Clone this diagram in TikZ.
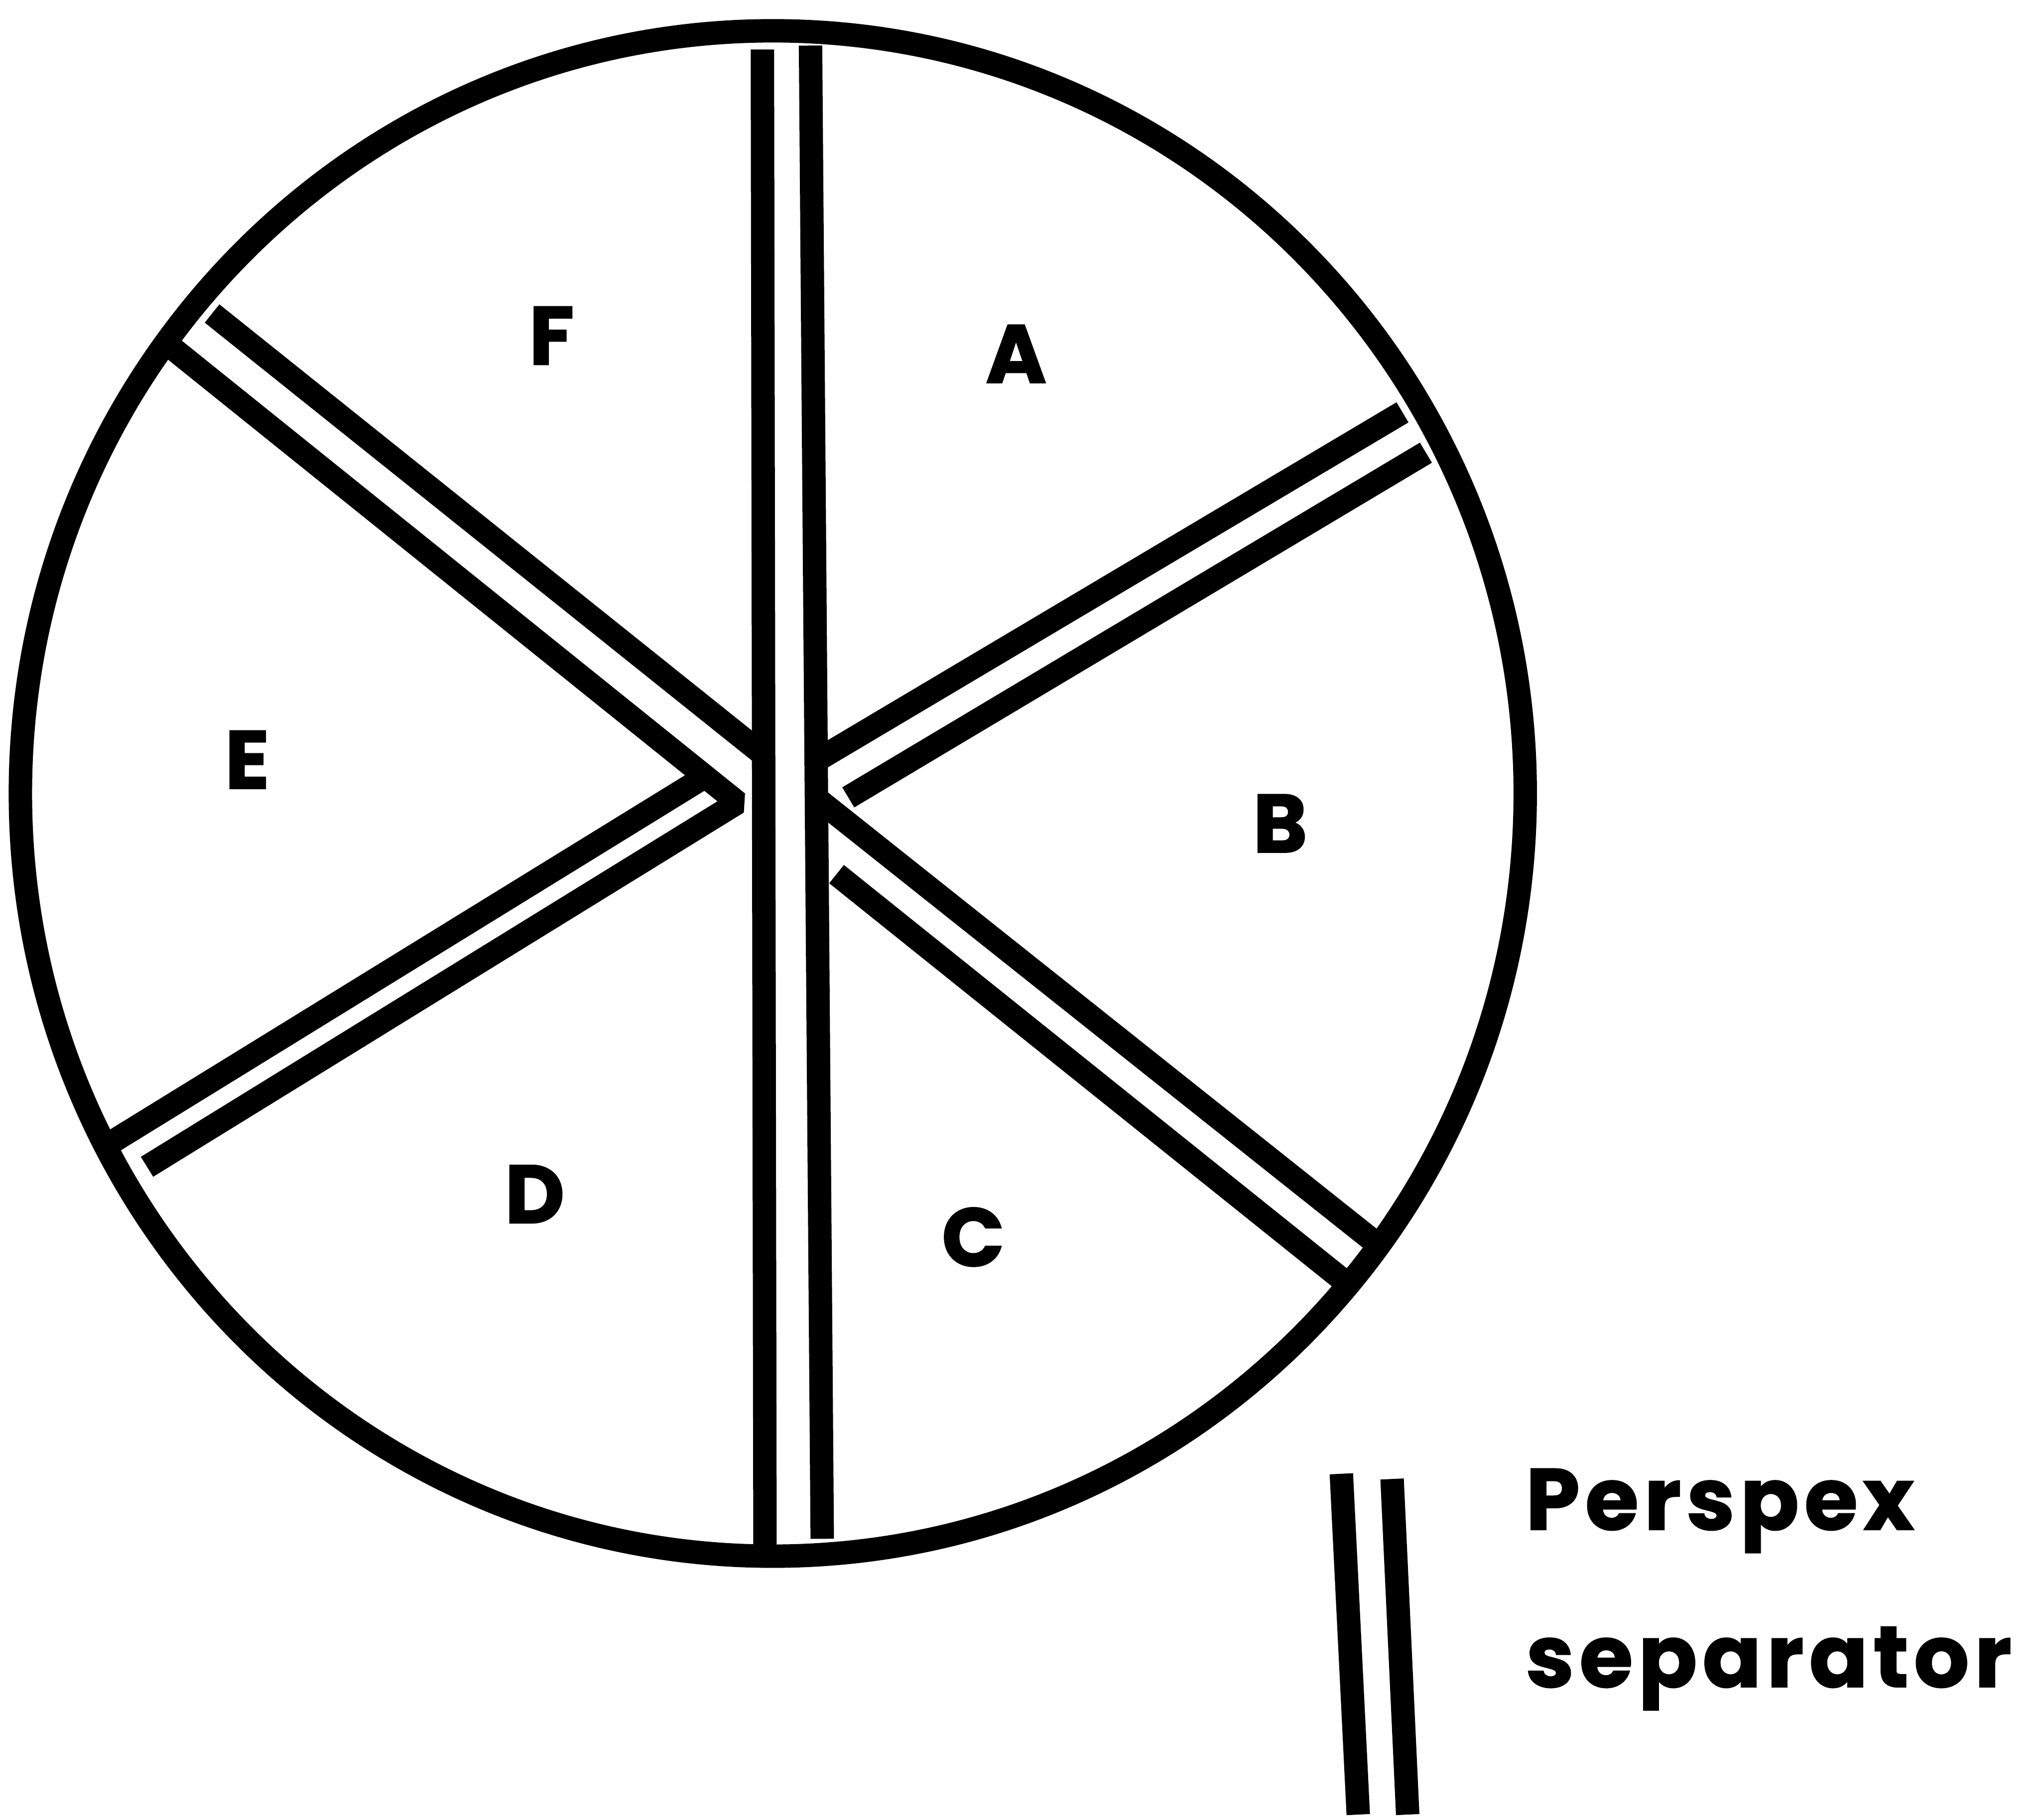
\documentclass[tikz,border=0pt]{standalone}
\usepackage{fontspec}
\usetikzlibrary{positioning}
\newfontfamily\sectorfont{Poppins}[BoldFeatures={FakeBold=1.5}]
\newfontfamily\legendfont{Poppins}[LetterSpace=6, BoldFeatures={FakeBold=1.2}]

\begin{document}
\begin{tikzpicture}[
  x=0.01cm, y=-0.01cm,
  rim/.style={line width=0.18cm, black},
  wall/.style={line width=0.18cm, black},
  sector/.style={inner sep=0pt, font=\sectorfont\bfseries\fontsize{18}{18}\selectfont},
  legend/.style={inner sep=0pt, anchor=base west,
                 font=\legendfont\bfseries\fontsize{19}{19}\selectfont},
]
\useasboundingbox (0,0) rectangle (1568,1399);

% dish
\draw[rim] (594,610) ellipse [x radius=5.78cm, y radius=5.86cm];

% central double wall
\coordinate (lt) at (586,38);
\coordinate (lb) at (588,1196);
\coordinate (rt) at (623,35);
\coordinate (rb) at (632,1183);
\draw[wall] (lt) -- (lb);
\draw[wall] (rt) -- (rb);

% left side walls
\coordinate (fe1) at (163,241);
\coordinate (fe1c) at (584,578);
\coordinate (fe2) at (128,264);
\coordinate (apex) at (567,617);
\coordinate (ed2) at (113,897);
\coordinate (ed1) at (86,878);
\coordinate (ed1c) at (542,597);
\draw[wall] (fe1) -- (fe1c);
\draw[wall, line join=bevel] (fe2) -- (apex) -- (ed2);
\draw[wall] (ed1) -- (ed1c);

% right side walls
\coordinate (ab1c) at (627,585);
\coordinate (ab1) at (1078,317);
\coordinate (ab2c) at (652,613);
\coordinate (ab2) at (1096,348);
\coordinate (bc1c) at (628,614);
\coordinate (bc1) at (1058,956);
\coordinate (bc2c) at (643,672);
\coordinate (bc2) at (1037,988);
\draw[wall] (ab1c) -- (ab1);
\draw[wall] (ab2c) -- (ab2);
\draw[wall] (bc1c) -- (bc1);
\draw[wall] (bc2c) -- (bc2);

% compartments
\node[sector] (secA) at (781,272) {A};
\node[sector] (secB) at (984,633) {B};
\node[sector] (secC) at (748,951) {C};
\node[sector] (secD) at (411,918) {D};
\node[sector] (secE) at (190,584) {E};
\node[sector] (secF) at (424,258) {F};

% key
\coordinate (k1t) at (1031,1133);
\coordinate (k1b) at (1044,1395);
\coordinate (k2t) at (1070,1137);
\coordinate (k2b) at (1082,1395);
\draw[wall] (k1t) -- (k1b);
\draw[wall] (k2t) -- (k2b);
\node[legend] (key1) at (1172,1176) {Perspex};
\node[legend] (key2) at (1172,1297) {separator};

\end{tikzpicture}
\end{document}
